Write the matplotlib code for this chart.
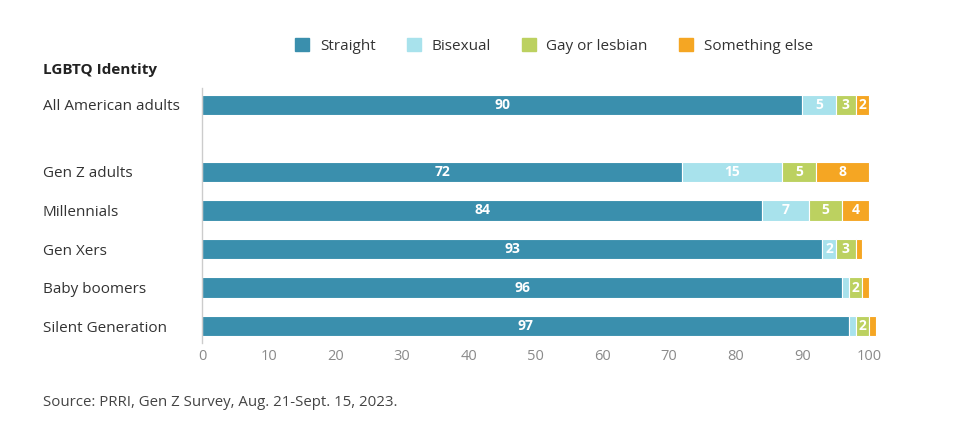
import matplotlib.pyplot as plt
import matplotlib.patches as mpatches

plt.rcParams['font.family'] = ['Open Sans', 'DejaVu Sans']

categories = ["All American adults", "Gen Z adults", "Millennials", "Gen Xers",
              "Baby boomers", "Silent Generation"]
series_names = ["Straight", "Bisexual", "Gay or lesbian", "Something else"]
straight = [90, 72, 84, 93, 96, 97]
bisexual = [5, 15, 7, 2, 1, 1]
gay = [3, 5, 5, 3, 2, 2]
something = [2, 8, 4, 1, 1, 1]
xticks = [0, 10, 20, 30, 40, 50, 60, 70, 80, 90, 100]
colors = ["#3a8fad", "#a8e2ec", "#bcd160", "#f5a623"]

positions = [0, 1.74, 2.74, 3.74, 4.74, 5.74]

fig = plt.figure(figsize=(9.6, 4.33), dpi=100)
ax = fig.add_axes([202/960, (433-343)/433, (869-202)/960, 255/433])

series = [straight, bisexual, gay, something]
left = [0]*len(categories)
for vals, col in zip(series, colors):
    ax.barh(positions, vals, left=left, height=0.53, color=col,
            edgecolor='white', linewidth=0.8, clip_on=False)
    for y, l, v in zip(positions, left, vals):
        if v >= 2:
            ax.text(l + v/2, y, str(v), ha='center', va='center', color='white',
                    fontsize=10, fontweight='bold', clip_on=False)
    left = [a + b for a, b in zip(left, vals)]

ax.set_xlim(0, 100)
ax.set_ylim(6.18, -0.44)
ax.set_yticks(positions)
ax.set_yticklabels(categories, fontsize=11, color='#333333')
for lbl in ax.get_yticklabels():
    lbl.set_horizontalalignment('left')
ax.tick_params(axis='y', length=0, pad=(202-43)*0.72)
ax.set_xticks(xticks)
ax.set_xticklabels([str(t) for t in xticks], fontsize=10.5, color='#8a8a8a')
ax.tick_params(axis='x', length=0, pad=4.5)
for s in ['top', 'right', 'bottom']:
    ax.spines[s].set_visible(False)
ax.spines['left'].set_color('#cccccc')
ax.spines['left'].set_linewidth(1)

fig.text(43/960, 1-70/433, "LGBTQ Identity", fontsize=11, fontweight='bold',
         color='#222222', va='center', ha='left')
fig.text(43/960, 1-403/433, "Source: PRRI, Gen Z Survey, Aug. 21-Sept. 15, 2023.",
         fontsize=10.8, color='#444444', va='center', ha='left')

handles = [mpatches.Patch(color=c, label=n) for c, n in zip(colors, series_names)]
fig.legend(handles=handles, loc='center', bbox_to_anchor=(554/960, 1-46/433), ncol=4,
           frameon=False, fontsize=11, handlelength=0.9, handleheight=0.9,
           handletextpad=0.7, columnspacing=2.05, labelcolor='#333333')

fig.savefig('out.png', dpi=100)
